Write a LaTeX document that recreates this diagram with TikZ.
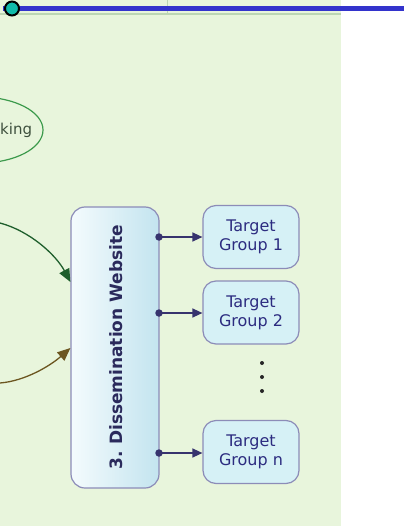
\documentclass[tikz,border=0pt]{standalone}
\usepackage{fontspec}
\setmainfont{DejaVu Sans}
\usetikzlibrary{arrows.meta,shapes.geometric}
\definecolor{pagebg}{HTML}{E8F5DC}
\definecolor{boxline}{HTML}{8C8CB8}
\definecolor{boxtext}{HTML}{2C2C80}
\definecolor{maintext}{HTML}{2A2A5C}
\definecolor{conn}{HTML}{37336E}
\definecolor{tgfill}{HTML}{D6F1F6}
\definecolor{mainL}{HTML}{F4FBFD}
\definecolor{mainR}{HTML}{C3E4EF}
\definecolor{ellline}{HTML}{3C9A4C}
\definecolor{elltext}{HTML}{3E503E}
\definecolor{greenarr}{HTML}{1E5E2C}
\definecolor{brownarr}{HTML}{6C5620}
\definecolor{topblue}{HTML}{3333CC}
\definecolor{knob}{HTML}{11BBAA}
\definecolor{headline}{HTML}{BCD6B4}
\tikzset{
  targetbox/.style={draw=boxline, line width=1.2pt, fill=tgfill, rounded corners=13pt,
    minimum width=96pt, minimum height=63pt, align=center, text=boxtext,
    font=\fontsize{16}{19}\selectfont, inner sep=0pt},
  mainbox/.style={draw=boxline, line width=1.2pt, rounded corners=14pt,
    left color=mainL, right color=mainR, minimum width=88pt, minimum height=281pt},
  feed/.style={draw=conn, line width=1.4pt, -{Triangle[length=10pt,width=9pt]}},
  feeddot/.style={circle, fill=conn, inner sep=0pt, minimum size=7.5pt},
}
\begin{document}
\begin{tikzpicture}[x=1pt,y=-1pt]
\useasboundingbox (0,0) rectangle (404,526);
\begin{scope}
\clip (0,0) rectangle (404,526);
% canvas
\fill[pagebg] (0,0) rectangle (341,526);
% header strip
\draw[headline, line width=1.4pt] (0,14) -- (341,14);
\draw[headline, line width=1pt] (167,0) -- (167,14);
% top rule with knob
\draw[topblue, line width=5.5pt] (3,8.5) -- (404,8.5);
\node[circle, draw=black, line width=2pt, fill=knob, minimum size=14pt, inner sep=0pt] (knob) at (12,8.5) {};

% networking ellipse (partly off the left edge)
\draw[ellline, line width=1.2pt] (-20,130) ellipse [x radius=63, y radius=33];
\node[anchor=west, text=elltext, font=\fontsize{15}{17}\selectfont, inner sep=0pt] (net) at (0,130) {king};

% main website box
\node[mainbox] (web) at (115,347.5) {};
\node[rotate=90, text=maintext, font=\fontsize{17}{19}\selectfont\bfseries] (webtxt) at (116,347) {3.\ Dissemination Website};

% target groups
\node[targetbox] (t1) at (251,237) {Target\\Group 1};
\node[targetbox] (t2) at (251,312.5) {Target\\Group 2};
\node[targetbox] (tn) at (251,452) {Target\\Group n};
\foreach \yy in {363,377,391} \fill[black!85] (262,\yy) circle (2);

% connectors from the website to the groups
\coordinate (s1) at (159,237);
\coordinate (s2) at (159,313);
\coordinate (sn) at (159,453);
\draw[feed] (s1) -- (t1.west |- s1);
\draw[feed] (s2) -- (t2.west |- s2);
\draw[feed] (sn) -- (tn.west |- sn);
\node[feeddot] at (s1) {};
\node[feeddot] at (s2) {};
\node[feeddot] at (sn) {};

% incoming arrows from the left
\coordinate (ga) at (0,223);
\coordinate (ba) at (0,383);
\draw[greenarr, line width=1.3pt, -{Triangle[length=13pt,width=11pt]}]
  (ga) .. controls (30,231) and (56,255) .. (web.west |- 0,282);
\draw[brownarr, line width=1.3pt, -{Triangle[length=13pt,width=11pt]}]
  (ba) .. controls (25,381) and (50,366) .. (web.west |- 0,348);
\end{scope}
\end{tikzpicture}
\end{document}
